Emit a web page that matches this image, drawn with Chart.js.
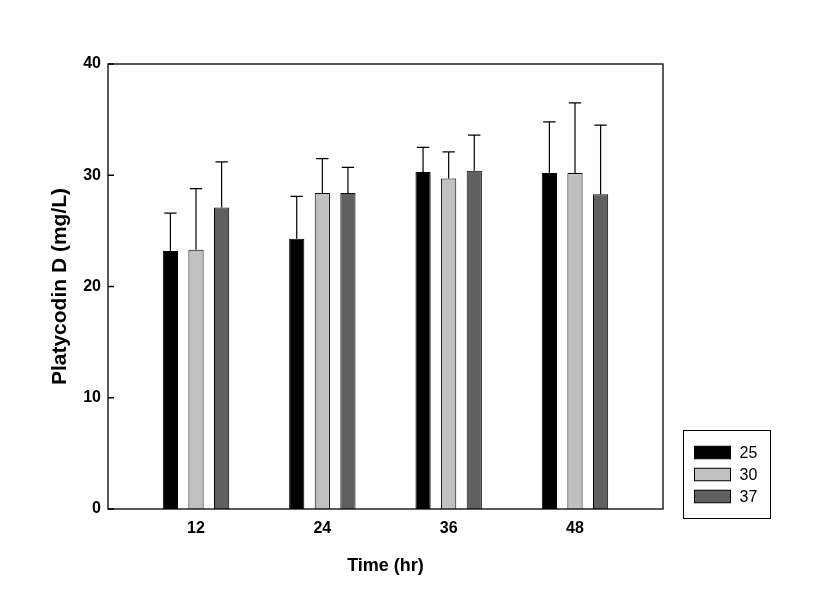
<!DOCTYPE html>
<html>
<head>
<meta charset="utf-8">
<script src="https://cdn.jsdelivr.net/npm/chart.js@4"></script>
<style>
body { margin: 0; background: #fff; }
#wrap { width: 822px; height: 591px; }
</style>
</head>
<body>
<div id="wrap"><canvas id="myChart" width="822" height="591"></canvas></div>
<script>
const times = [12, 24, 36, 48];
const temps = ['25', '30', '37'];
const mean25 = [23.2, 24.3, 30.3, 30.2];
const mean30 = [23.3, 28.4, 29.7, 30.2];
const mean37 = [27.1, 28.4, 30.4, 28.3];
const sd25 = [3.4, 3.8, 2.2, 4.6];
const sd30 = [5.5, 3.1, 2.4, 6.3];
const sd37 = [4.1, 2.3, 3.2, 6.2];
const yTicks = [0, 10, 20, 30, 40];

const colors = ['#000000', '#c0c0c0', '#606060'];
const means = [mean25, mean30, mean37];
const sds = [sd25, sd30, sd37];
const FONT = "'Liberation Sans', Arial, sans-serif";

// error bars, frame, inward ticks, legend box
const extras = {
  id: 'extras',
  afterDatasetsDraw(chart) {
    const { ctx, chartArea: a, scales: { y } } = chart;
    ctx.save();
    ctx.strokeStyle = '#000';
    ctx.lineWidth = 1.2;
    chart.data.datasets.forEach((ds, i) => {
      chart.getDatasetMeta(i).data.forEach((bar, j) => {
        const top = y.getPixelForValue(ds.data[j].y + ds.err[j]);
        ctx.beginPath();
        ctx.moveTo(bar.x, bar.y);
        ctx.lineTo(bar.x, top);
        ctx.moveTo(bar.x - 6.2, top);
        ctx.lineTo(bar.x + 6.2, top);
        ctx.stroke();
      });
    });

    ctx.lineWidth = 1.3;
    ctx.strokeRect(a.left, a.top, a.width, a.height);
    ctx.beginPath();
    yTicks.forEach(v => {
      const py = y.getPixelForValue(v);
      ctx.moveTo(a.left, py);
      ctx.lineTo(a.left + 6, py);
    });
    ctx.stroke();

    // legend
    const bx = a.right + 20.5, by = a.bottom - 78.5;
    ctx.lineWidth = 1;
    ctx.strokeRect(bx, by, 87, 88);
    ctx.font = '16px ' + FONT;
    ctx.textBaseline = 'middle';
    ctx.textAlign = 'left';
    chart.data.datasets.forEach((ds, i) => {
      const cy = by + 22 + i * 22;
      ctx.fillStyle = ds.backgroundColor;
      ctx.fillRect(bx + 11, cy - 6.25, 36, 12.5);
      ctx.strokeRect(bx + 11, cy - 6.25, 36, 12.5);
      ctx.fillStyle = '#000';
      ctx.fillText(ds.label, bx + 56, cy + 1);
    });
    ctx.restore();
  }
};

new Chart(document.getElementById('myChart'), {
  type: 'bar',
  data: {
    datasets: temps.map((t, i) => ({
      label: t,
      data: times.map((x, j) => ({ x: x, y: means[i][j] })),
      err: sds[i],
      backgroundColor: colors[i],
      borderColor: '#000',
      borderWidth: 1,
      categoryPercentage: 0.608,
      barPercentage: 0.594
    }))
  },
  options: {
    responsive: false,
    animation: false,
    layout: { padding: { left: 0, right: 159, top: 64, bottom: 0 } },
    plugins: { legend: { display: false }, tooltip: { enabled: false } },
    scales: {
      x: {
        type: 'linear',
        min: 3.64,
        max: 56.36,
        offset: false,
        afterBuildTicks: s => { s.ticks = times.map(v => ({ value: v })); },
        afterFit: s => { s.height = 82; },
        grid: { display: false, drawTicks: false, offset: false },
        border: { display: false },
        ticks: {
          padding: 10,
          color: '#000',
          font: { family: FONT, size: 16, weight: 'bold' },
          callback: v => String(v)
        },
        title: {
          display: true,
          text: 'Time (hr)',
          color: '#000',
          font: { family: FONT, size: 18, weight: 'bold' },
          padding: { top: 0, bottom: 14 }
        }
      },
      y: {
        min: 0,
        max: 40,
        afterFit: s => { s.width = 108; },
        grid: { display: false, drawTicks: false },
        border: { display: false },
        ticks: {
          stepSize: 10,
          padding: 7,
          color: '#000',
          font: { family: FONT, size: 16, weight: 'bold' }
        },
        title: {
          display: true,
          text: 'Platycodin D (mg/L)',
          color: '#000',
          font: { family: FONT, size: 21, weight: 'bold' },
          padding: { top: 48, bottom: 0 }
        }
      }
    }
  },
  plugins: [extras]
});
</script>
</body>
</html>
